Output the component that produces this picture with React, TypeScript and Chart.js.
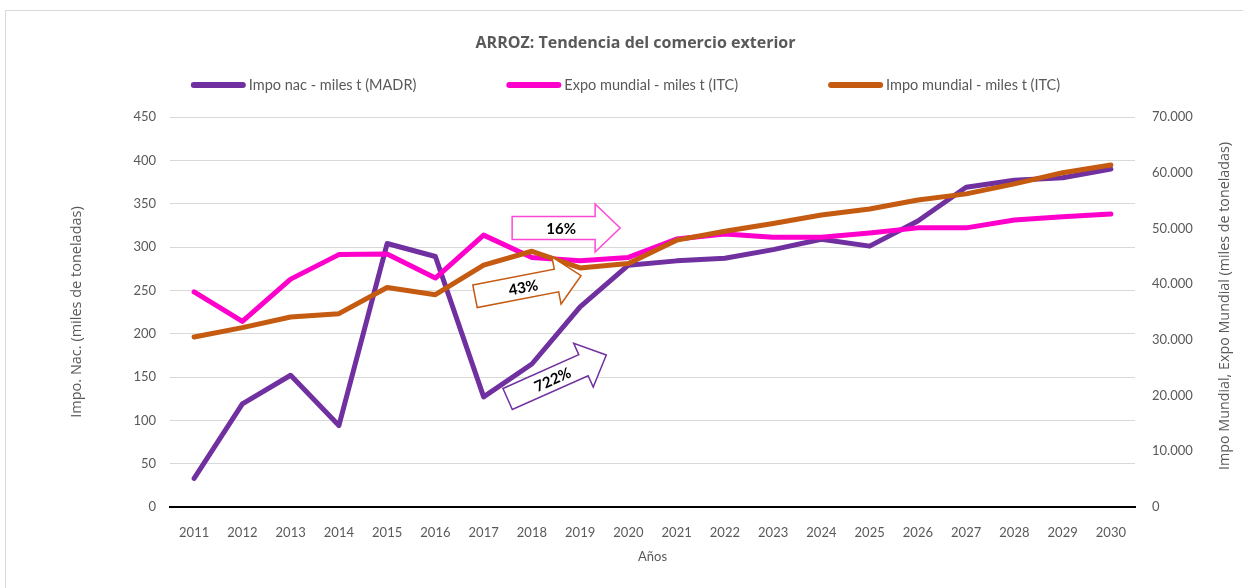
import React, { useEffect, useRef } from "react";
import { Chart, registerables } from "chart.js";

Chart.register(...registerables);

const years = ["2011", "2012", "2013", "2014", "2015", "2016", "2017", "2018", "2019", "2020", "2021", "2022", "2023", "2024", "2025", "2026", "2027", "2028", "2029", "2030"];
const impoNac = [33, 119, 152, 94, 304, 289, 127, 165, 231, 279, 284, 287, 297, 309, 301, 330, 369, 377, 380, 390];
const expoMundial = [38600, 33300, 40900, 45300, 45400, 41100, 48800, 44800, 44200, 44800, 48100, 49000, 48400, 48400, 49200, 50100, 50100, 51500, 52100, 52600];
const impoMundial = [30500, 32200, 34100, 34700, 39400, 38100, 43400, 45900, 42900, 43700, 47900, 49500, 50900, 52400, 53500, 55100, 56200, 58000, 60000, 61400];

const seriesLabels = ["Impo nac - miles t (MADR)", "Expo mundial - miles t (ITC)", "Impo mundial - miles t (ITC)"];
const seriesColors = ["#7030A0", "#FF00CC", "#C55A11"];

const leftMax = 450;
const leftStep = 50;
const rightMax = 70000;
const rightStep = 10000;

const titleText = "ARROZ: Tendencia del comercio exterior";
const leftTitle = "Impo. Nac. (miles de toneladas)";
const rightTitle = "Impo Mundial, Expo Mundial (miles de toneladas)";
const xTitle = "Años";

// growth annotations (block arrows)
const noteLabels = ["16%", "43%", "722%"];
const noteColors = ["#FF47D6", "#C55A11", "#7030A0"];
const noteYearPos = [7.71, 6.92, 7.52];
const noteValues = [322, 255, 150];
const noteAngles = [0, -11, -24];

const FONT = "Lato, 'Open Sans', sans-serif";
const TFONT = "'Open Sans', sans-serif";
const GREY = "#595959";

const fmtThousands = (v: number) => String(v).replace(/\B(?=(\d{3})+(?!\d))/g, ".");

const arrowsPlugin = {
  id: "arrowsPlugin",
  afterDatasetsDraw(chart: any) {
    const ctx = chart.ctx;
    const xs = chart.scales.x;
    const ys = chart.scales.y;
    const L = 108, hl = 25, bh = 11.5, hh = 24;
    noteLabels.forEach((label, i) => {
      const cx = xs.getPixelForValue(noteYearPos[i]);
      const cy = ys.getPixelForValue(noteValues[i]);
      ctx.save();
      ctx.translate(cx, cy);
      ctx.rotate((noteAngles[i] * Math.PI) / 180);
      ctx.beginPath();
      ctx.moveTo(-L / 2, -bh);
      ctx.lineTo(L / 2 - hl, -bh);
      ctx.lineTo(L / 2 - hl, -hh);
      ctx.lineTo(L / 2, 0);
      ctx.lineTo(L / 2 - hl, hh);
      ctx.lineTo(L / 2 - hl, bh);
      ctx.lineTo(-L / 2, bh);
      ctx.closePath();
      ctx.fillStyle = "#ffffff";
      ctx.fill();
      ctx.strokeStyle = noteColors[i];
      ctx.lineWidth = 1.5;
      ctx.stroke();
      ctx.fillStyle = "#000000";
      ctx.font = `bold 15px ${FONT}`;
      ctx.textAlign = "center";
      ctx.textBaseline = "middle";
      ctx.fillText(label, -5, 1);
      ctx.restore();
    });
  },
};

const textPlugin = {
  id: "customTexts",
  afterDraw(chart: any) {
    const ctx = chart.ctx;
    const area = chart.chartArea;
    ctx.save();
    // title
    ctx.font = `bold 16px ${TFONT}`;
    ctx.fillStyle = GREY;
    ctx.textAlign = "center";
    ctx.textBaseline = "middle";
    ctx.fillText(titleText, chart.width / 2 + 14, area.top - 74);
    // right axis title (reads bottom to top)
    ctx.save();
    ctx.font = `14.3px ${TFONT}`;
    ctx.translate(chart.width - 18, (area.top + area.bottom) / 2 - 6);
    ctx.rotate(-Math.PI / 2);
    ctx.fillText(rightTitle, 0, 0);
    ctx.restore();
    // legend
    ctx.font = `14.5px ${FONT}`;
    const lineLen = 55, gapText = 3, gapItem = 90;
    const widths = seriesLabels.map((t) => lineLen + gapText + ctx.measureText(t).width);
    const total = widths.reduce((a, b) => a + b, 0) + gapItem * (widths.length - 1);
    let x = chart.width / 2 - total / 2 + 4;
    const y = area.top - 32;
    seriesLabels.forEach((t, i) => {
      ctx.strokeStyle = seriesColors[i];
      ctx.lineWidth = 6;
      ctx.lineCap = "round";
      ctx.beginPath();
      ctx.moveTo(x + 3, y);
      ctx.lineTo(x + lineLen - 3, y);
      ctx.stroke();
      ctx.fillStyle = GREY;
      ctx.textAlign = "left";
      ctx.textBaseline = "middle";
      ctx.fillText(t, x + lineLen + gapText, y);
      x += widths[i] + gapItem;
    });
    ctx.restore();
  },
};

export default function App() {
  const canvasRef = useRef<HTMLCanvasElement | null>(null);

  useEffect(() => {
    if (!canvasRef.current) return;
    const chart = new Chart(canvasRef.current, {
      type: "line",
      data: {
        labels: years,
        datasets: [
          { label: seriesLabels[0], data: impoNac, yAxisID: "y", borderColor: seriesColors[0], backgroundColor: seriesColors[0], order: 2 },
          { label: seriesLabels[1], data: expoMundial, yAxisID: "y1", borderColor: seriesColors[1], backgroundColor: seriesColors[1], order: 1 },
          { label: seriesLabels[2], data: impoMundial, yAxisID: "y1", borderColor: seriesColors[2], backgroundColor: seriesColors[2], order: 0 },
        ].map((d) => ({ ...d, borderWidth: 5, pointRadius: 0, pointHoverRadius: 0, tension: 0, borderCapStyle: "round", borderJoinStyle: "round", fill: false })) as any,
      },
      options: {
        animation: false,
        responsive: false,
        maintainAspectRatio: false,
        layout: { padding: { top: 117, left: 0, right: 0, bottom: 0 } },
        plugins: {
          legend: { display: false },
          tooltip: { enabled: false },
          title: { display: false },
        },
        scales: {
          x: {
            type: "category",
            offset: true,
            grid: { display: false },
            border: { display: true, color: "#000000", width: 2 },
            ticks: { color: GREY, font: { family: FONT, size: 13 }, padding: 10, maxRotation: 0, autoSkip: false },
            title: { display: true, text: xTitle, color: GREY, font: { family: FONT, size: 13 }, padding: { top: 0, bottom: 23 } },
            afterFit: (s: any) => { s.height = 81; },
          },
          y: {
            position: "left",
            min: 0,
            max: leftMax,
            grid: { color: "#d9d9d9", lineWidth: 1, drawTicks: false },
            border: { display: false },
            ticks: { stepSize: leftStep, color: GREY, font: { family: FONT, size: 13 }, padding: 14 },
            title: { display: true, text: leftTitle, color: GREY, font: { family: TFONT, size: 14.5 }, padding: { top: 68, bottom: 0 } },
            afterFit: (s: any) => { s.width = 170; },
          },
          y1: {
            position: "right",
            min: 0,
            max: rightMax,
            grid: { display: false, drawTicks: false },
            border: { display: false },
            ticks: { stepSize: rightStep, color: GREY, font: { family: FONT, size: 13 }, padding: 17, callback: (v: any) => fmtThousands(Number(v)) },
            title: { display: false },
            afterFit: (s: any) => { s.width = 108; },
          },
        },
      },
      plugins: [arrowsPlugin, textPlugin],
    });
    return () => chart.destroy();
  }, []);

  return (
    <div style={{ position: "fixed", left: 0, top: 0, width: 1243, height: 588, background: "#ffffff" }}>
      <div style={{ position: "absolute", left: 5, top: 10, right: -2, bottom: -2, borderLeft: "1px solid #d9d9d9", borderTop: "1px solid #d9d9d9" }} />
      <canvas ref={canvasRef} width={1243} height={588} style={{ position: "absolute", left: 0, top: 0, width: 1243, height: 588 }} />
    </div>
  );
}
